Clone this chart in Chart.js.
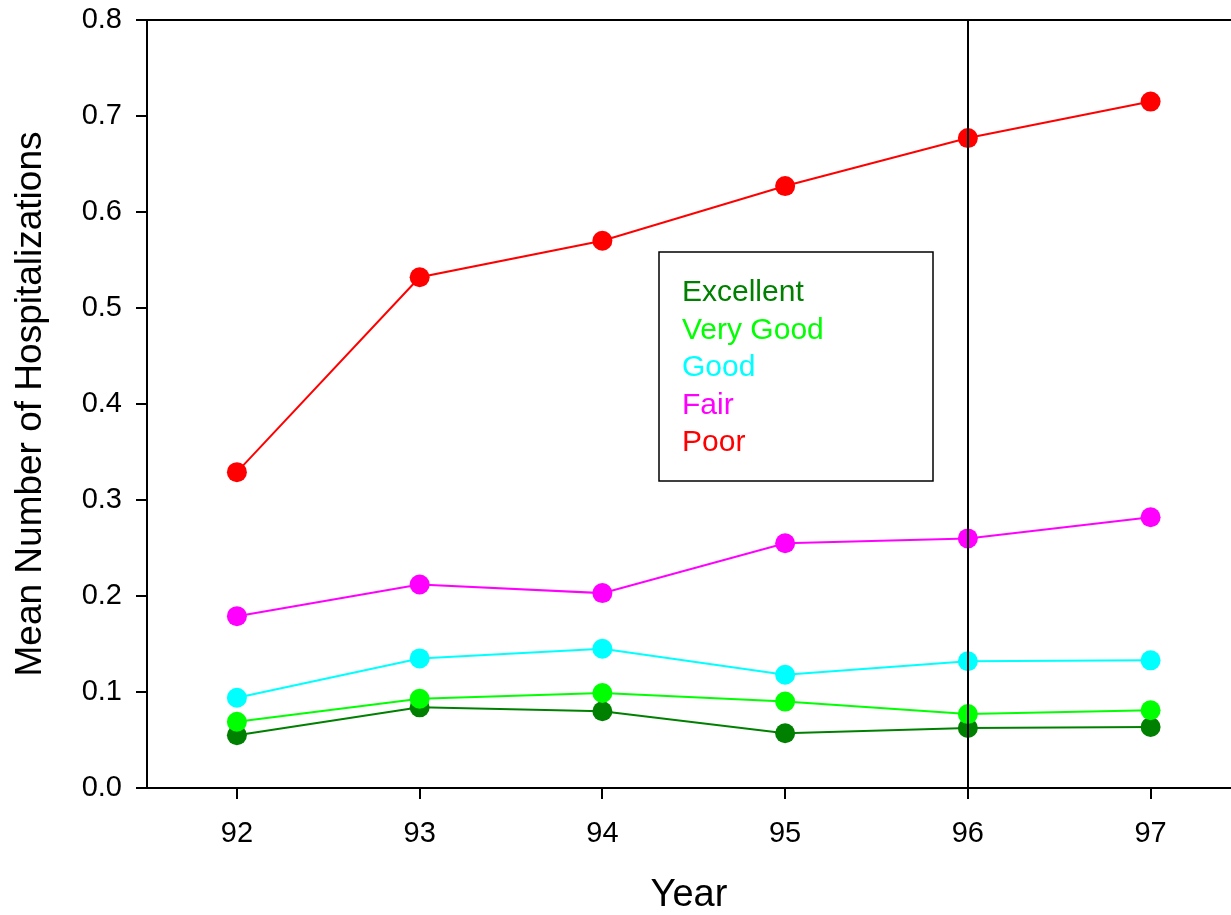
<!DOCTYPE html>
<html>
<head>
<meta charset="utf-8">
<script src="https://cdn.jsdelivr.net/npm/chart.js@4/dist/chart.umd.min.js"></script>
<style>
  html, body { margin: 0; padding: 0; background: #fff; overflow: hidden; }
  canvas { display: block; }
</style>
</head>
<body>
<canvas id="hospChart" width="1231" height="915" style="width:1231px;height:915px"></canvas>
<script>
// datos
const years = [92, 93, 94, 95, 96, 97];
const excellent = [0.055, 0.084, 0.080, 0.057, 0.0625, 0.0635];
const veryGood = [0.069, 0.093, 0.099, 0.090, 0.077, 0.081];
const good = [0.094, 0.135, 0.145, 0.118, 0.132, 0.133];
const fair = [0.179, 0.212, 0.203, 0.255, 0.260, 0.282];
const poor = [0.329, 0.532, 0.570, 0.627, 0.677, 0.715];
const yTicks = [0.0, 0.1, 0.2, 0.3, 0.4, 0.5, 0.6, 0.7, 0.8];
const refYear = 96;

const FONT = '"Liberation Sans", Arial, sans-serif';

const series = [
    { label: 'Excellent', data: excellent, color: '#008000' },
    { label: 'Very Good', data: veryGood, color: '#00ff00' },
    { label: 'Good', data: good, color: '#00ffff' },
    { label: 'Fair', data: fair, color: '#ff00ff' },
    { label: 'Poor', data: poor, color: '#ff0000' }
];

// quitar el relleno automatico que Chart.js deja para las etiquetas
const noPad = scale => {
    scale.paddingTop = 0;
    scale.paddingBottom = 0;
    scale.paddingLeft = 0;
    scale.paddingRight = 0;
};

// marco superior, linea vertical en 96 y leyenda dentro del area
const extras = {
    id: 'extras',
    afterDatasetsDraw(chart) {
        const { ctx, chartArea: a, scales } = chart;
        ctx.save();
        ctx.strokeStyle = '#000';
        ctx.lineWidth = 2;
        ctx.beginPath();
        ctx.moveTo(a.left - 11, a.top);
        ctx.lineTo(a.right, a.top);
        ctx.stroke();
        const xv = Math.round(scales.x.getPixelForValue(refYear));
        ctx.beginPath();
        ctx.moveTo(xv, a.top);
        ctx.lineTo(xv, a.bottom);
        ctx.stroke();

        // leyenda
        const bx = 659, by = 252, bw = 274, bh = 229;
        ctx.lineWidth = 1.5;
        ctx.fillStyle = '#fff';
        ctx.fillRect(bx, by, bw, bh);
        ctx.strokeRect(bx, by, bw, bh);
        ctx.font = '30px ' + FONT;
        ctx.textBaseline = 'middle';
        ctx.textAlign = 'left';
        series.forEach((s, i) => {
            ctx.fillStyle = s.color;
            ctx.fillText(s.label, 682, 293 + i * 37.5);
        });
        ctx.restore();
    }
};

document.addEventListener('DOMContentLoaded', () => {
    const canvas = document.getElementById('hospChart');
    new Chart(canvas.getContext('2d'), {
        type: 'line',
        data: {
            datasets: series.map((s, i) => ({
                label: s.label,
                data: years.map((y, k) => ({ x: y, y: s.data[k] })),
                borderColor: s.color,
                backgroundColor: s.color,
                pointBackgroundColor: s.color,
                pointBorderWidth: 0,
                pointRadius: 10,
                pointHoverRadius: 10,
                borderWidth: 2,
                tension: 0,
                clip: false,
                order: series.length - i
            }))
        },
        options: {
            responsive: false,
            animation: false,
            devicePixelRatio: 1,
            layout: { autoPadding: false, padding: { top: 20, right: 0, left: 0, bottom: 0 } },
            plugins: {
                legend: { display: false },
                tooltip: { enabled: false }
            },
            scales: {
                x: {
                    type: 'linear',
                    min: 91.508,
                    max: 97.44,
                    afterBuildTicks: scale => { scale.ticks = years.map(v => ({ value: v })); },
                    afterFit: scale => { scale.height = 127; noPad(scale); },
                    grid: { drawOnChartArea: false, drawTicks: true, tickLength: 11, color: '#000', lineWidth: 2 },
                    border: { display: true, color: '#000', width: 2 },
                    ticks: {
                        color: '#000',
                        font: { family: FONT, size: 29 },
                        padding: 18,
                        maxRotation: 0,
                        callback: v => String(v)
                    },
                    title: {
                        display: true,
                        text: 'Year',
                        color: '#000',
                        font: { family: FONT, size: 38 },
                        padding: { top: 0, bottom: -3 }
                    }
                },
                y: {
                    min: 0,
                    max: 0.8,
                    afterBuildTicks: scale => { scale.ticks = yTicks.map(v => ({ value: v })); },
                    afterFit: scale => { scale.width = 147; noPad(scale); },
                    grid: { drawOnChartArea: false, drawTicks: true, tickLength: 11, color: '#000', lineWidth: 2 },
                    border: { display: true, color: '#000', width: 2 },
                    ticks: {
                        color: '#000',
                        font: { family: FONT, size: 29 },
                        padding: 14,
                        callback: v => Number(v).toFixed(1)
                    },
                    title: {
                        display: true,
                        text: 'Mean Number of Hospitalizations',
                        color: '#000',
                        font: { family: FONT, size: 37 },
                        padding: { top: 9, bottom: 0 }
                    }
                }
            }
        },
        plugins: [extras]
    });
});
</script>
</body>
</html>
